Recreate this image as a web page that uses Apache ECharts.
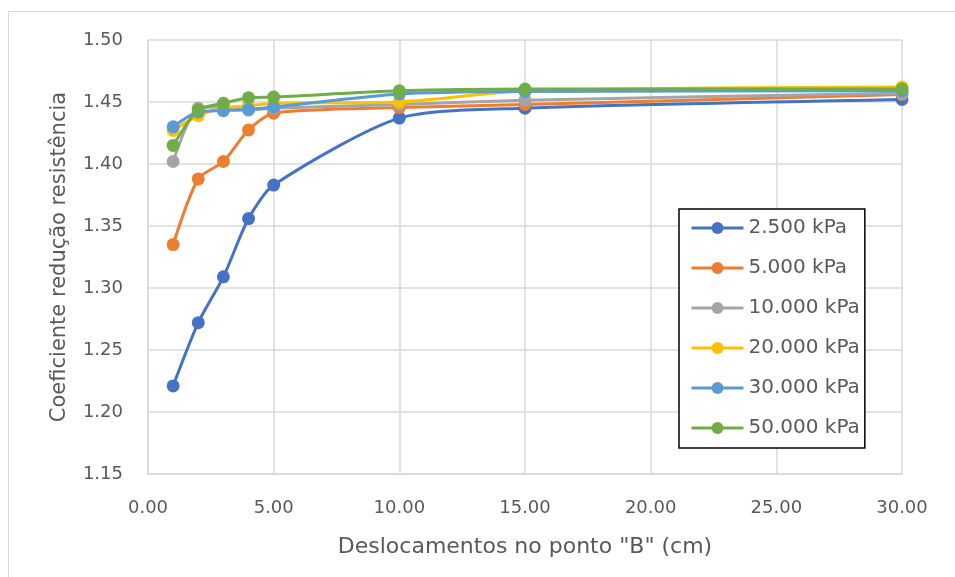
<!DOCTYPE html>
<html>
<head>
<meta charset="utf-8">
<script src="https://cdn.jsdelivr.net/npm/echarts@6/dist/echarts.min.js"></script>
<style>
  html, body { margin: 0; padding: 0; background: #fff; }
  #chart { width: 955px; height: 577px; }
</style>
</head>
<body>
<div id="chart"></div>
<script>
// Displacement at point "B" (cm)
const deslocamentos = [1, 2, 3, 4, 5, 10, 15, 30];

const seriesNames = ['2.500 kPa', '5.000 kPa', '10.000 kPa', '20.000 kPa', '30.000 kPa', '50.000 kPa'];
const seriesColors = ['#4472C4', '#ED7D31', '#A5A5A5', '#FFC000', '#5B9BD5', '#70AD47'];

// Strength reduction coefficient per load level
const kPa2500  = [1.221, 1.272, 1.309, 1.356, 1.383, 1.437, 1.445, 1.452];
const kPa5000  = [1.335, 1.388, 1.402, 1.4275, 1.441, 1.4455, 1.448, 1.456];
const kPa10000 = [1.402, 1.445, 1.446, 1.4435, 1.445, 1.448, 1.4515, 1.457];
const kPa20000 = [1.427, 1.439, 1.445, 1.447, 1.449, 1.450, 1.459, 1.462];
const kPa30000 = [1.430, 1.442, 1.443, 1.444, 1.446, 1.4565, 1.4585, 1.459];
const kPa50000 = [1.415, 1.4435, 1.449, 1.4535, 1.454, 1.459, 1.4605, 1.4605];

const seriesValues = [kPa2500, kPa5000, kPa10000, kPa20000, kPa30000, kPa50000];

const chart = echarts.init(document.getElementById('chart'), null, { renderer: 'canvas' });

const textColor = '#595959';
const gridColor = '#d9d9d9';
const font = '"DejaVu Sans", "Liberation Sans", sans-serif';

chart.setOption({
  animation: false,
  backgroundColor: '#ffffff',
  graphic: [{
    type: 'rect',
    shape: { x: 8.5, y: 11.5, width: 960, height: 580 },
    style: { fill: 'none', stroke: '#d9d9d9', lineWidth: 1 },
    z: -10
  }],
  grid: { left: 148, right: 53, top: 40, bottom: 103, containLabel: false },
  xAxis: {
    type: 'value',
    min: 0, max: 30, interval: 5,
    name: 'Deslocamentos no ponto "B" (cm)',
    nameLocation: 'middle',
    nameGap: 62,
    nameTextStyle: { color: textColor, fontSize: 22, fontFamily: font },
    axisLine: { show: true, lineStyle: { color: gridColor, width: 1.5 } },
    axisTick: { show: false },
    axisLabel: {
      color: textColor, fontSize: 18, fontFamily: font, margin: 25,
      formatter: v => v.toFixed(2)
    },
    splitLine: { show: true, lineStyle: { color: gridColor, width: 1.5 } }
  },
  yAxis: {
    type: 'value',
    min: 1.15, max: 1.50, interval: 0.05,
    name: 'Coeficiente redução resistência',
    nameLocation: 'middle',
    nameGap: 78,
    nameTextStyle: { color: textColor, fontSize: 21, fontFamily: font },
    axisLine: { show: true, lineStyle: { color: gridColor, width: 1.5 } },
    axisTick: { show: false },
    axisLabel: {
      color: textColor, fontSize: 18, fontFamily: font, margin: 25,
      formatter: v => v.toFixed(2)
    },
    splitLine: { show: true, lineStyle: { color: gridColor, width: 1.5 } }
  },
  legend: {
    orient: 'vertical',
    left: 679, top: 209,
    backgroundColor: '#ffffff',
    borderColor: '#000000',
    borderWidth: 1.5,
    padding: [9, 5, 10, 11],
    itemWidth: 52,
    itemHeight: 15,
    itemGap: 20,
    lineStyle: { width: 3 },
    textStyle: { color: textColor, fontSize: 20, fontFamily: font },
    data: seriesNames
  },
  series: seriesNames.map((name, i) => ({
    name: name,
    type: 'line',
    smooth: 0.25,
    data: deslocamentos.map((x, j) => [x, seriesValues[i][j]]),
    color: seriesColors[i],
    lineStyle: { width: 3, color: seriesColors[i] },
    symbol: 'circle',
    symbolSize: 13,
    itemStyle: { color: seriesColors[i] },
    z: 2 + i
  }))
});
</script>
</body>
</html>
